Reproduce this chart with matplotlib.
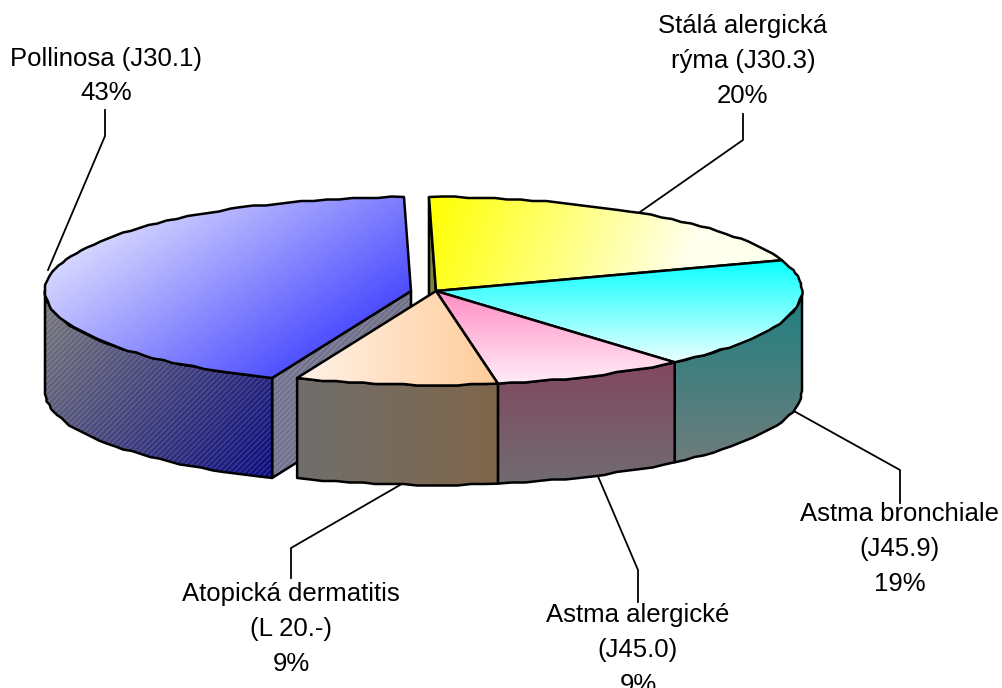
import matplotlib
matplotlib.use("Agg")
import matplotlib.pyplot as plt
import numpy as np
from matplotlib.path import Path
from matplotlib.patches import PathPatch

plt.rcParams["font.family"] = ["Liberation Sans", "DejaVu Sans"]
plt.rcParams["hatch.linewidth"] = 0.6

# clockwise from the top, same order as the reference pie
categories = ["Stálá alergická\nrýma (J30.3)", "Astma bronchiale\n(J45.9)", "Astma alergické\n(J45.0)",
              "Atopická dermatitis\n(L 20.-)", "Pollinosa (J30.1)"]
shares = [20.0, 19.0, 8.6, 8.9, 43.5]
shown_pct = [20, 19, 9, 9, 43]           # what the labels print
explode_x = [0, 0, 0, 0, -25]

CX, CY = 436, 291
RX, RY = 366, 94
DEPTH = 100
START = -1.1


def rim(theta, dx=0):
    t = np.radians(theta)
    return np.column_stack([CX + dx + RX * np.sin(t), CY - RY * np.cos(t)])


def arc_pts(a, b, dx):
    # lightly snapped, the original outline is a bit scalloped
    n = max(6, int(abs(b - a) / 2))
    pts = rim(np.linspace(a, b, n), dx)
    pts[1:-1] = np.round(pts[1:-1] / 1.5) * 1.5
    return pts


def poly(pts):
    pts = np.asarray(pts)
    return Path(np.vstack([pts, pts[:1]]), closed=True)


def grad_fill(ax, path, c0, c1, p0, p1, z):
    """fills path with a linear gradient running from point p0 to point p1"""
    x0, y0 = path.vertices.min(axis=0)
    x1, y1 = path.vertices.max(axis=0)
    xs, ys = np.meshgrid(np.linspace(x0, x1, 300), np.linspace(y0, y1, 300))
    d = np.array(p1, float) - np.array(p0, float)
    t = ((xs - p0[0]) * d[0] + (ys - p0[1]) * d[1]) / (d @ d)
    t = np.clip(t, 0, 1)[..., None]
    c0 = np.array(matplotlib.colors.to_rgb(c0))
    c1 = np.array(matplotlib.colors.to_rgb(c1))
    im = ax.imshow(c0 + (c1 - c0) * t, extent=(x0, x1, y1, y0), aspect="auto",
                   zorder=z, interpolation="bilinear")
    im.set_clip_path(PathPatch(path, transform=ax.transData))


def outline(ax, path, z, hatch=False):
    if hatch:
        ax.add_patch(PathPatch(path, fc="none", ec=(1, 1, 1, 0.22), hatch="//////", lw=0, zorder=z))
    ax.add_patch(PathPatch(path, fc="none", ec="black", lw=1.8, joinstyle="round", zorder=z + 0.1))


fig = plt.figure(figsize=(10.03, 6.88), dpi=100)
ax = fig.add_axes([0, 0, 1, 1])

edges = START + np.cumsum([0] + shares) * 3.6
slices = [(edges[i], edges[i + 1], explode_x[i]) for i in range(len(shares))]


def top_path(a, b, dx):
    return poly(np.vstack([[[CX + dx, CY]], arc_pts(a, b, dx)]))


def side_path(a, b, dx):
    a, b = max(a, 90), min(b, 270)
    arc = arc_pts(a, b, dx)
    return poly(np.vstack([arc, (arc + [0, DEPTH])[::-1]]))


# Pollinosa, pulled out to the left
a, b, dx = slices[4]
corner = rim(a, dx)[0]
face = poly([[CX + dx, CY], corner, corner + [0, DEPTH], [CX + dx, CY + DEPTH]])
grad_fill(ax, face, "#747490", "#707088", (272, 380), (410, 380), 1)
outline(ax, face, 1.2, hatch=True)
side = side_path(a, b, dx)
grad_fill(ax, side, "#74747c", "#0c0c80", (60, 300), (280, 470), 2)
outline(ax, side, 2.2, hatch=True)
top = top_path(a, b, dx)
grad_fill(ax, top, "#e8e8ff", "#2828ff", (100, 200), (280, 455), 3)
outline(ax, top, 3.2)

# Stálá alergická rýma, the cut face shows as a sliver behind the top
a, b, dx = slices[0]
edge = rim(a, dx)[0]
sliver = poly([[CX, CY], edge, edge + [0, DEPTH], [CX, CY + DEPTH]])
ax.add_patch(PathPatch(sliver, fc="#80803f", ec="black", lw=1.8, zorder=4))
top = top_path(a, b, dx)
grad_fill(ax, top, "#ffff00", "#ffffee", (430, 195), (680, 285), 5)
outline(ax, top, 5.2)

# Astma bronchiale
a, b, dx = slices[1]
side = side_path(a, b, dx)
grad_fill(ax, side, "#1f8080", "#707c7c", (740, 295), (740, 465), 6)
outline(ax, side, 6.2)
top = top_path(a, b, dx)
grad_fill(ax, top, "#00ffff", "#eaffff", (600, 258), (600, 362), 7)
outline(ax, top, 7.2)

# Astma alergické
a, b, dx = slices[2]
side = side_path(a, b, dx)
grad_fill(ax, side, "#824860", "#706c72", (590, 365), (590, 485), 8)
outline(ax, side, 8.2)
top = top_path(a, b, dx)
grad_fill(ax, top, "#ff96c8", "#ffeef8", (480, 300), (480, 384), 9)
outline(ax, top, 9.2)

# Atopická dermatitis
a, b, dx = slices[3]
side = side_path(a, b, dx)
grad_fill(ax, side, "#706f6c", "#80664a", (298, 430), (500, 430), 10)
outline(ax, side, 10.2)
top = top_path(a, b, dx)
grad_fill(ax, top, "#fff2e8", "#ffcc99", (298, 340), (500, 340), 11)
outline(ax, top, 11.2)

# leader lines run under the pie
leaders = [
    [(743, 114), (743, 140), (640, 212)],
    [(900, 503), (900, 470), (792, 410)],
    [(638, 602), (638, 570), (597, 474)],
    [(291, 578), (291, 548), (400, 485)],
    [(105, 110), (105, 136), (48, 270)],
]
for pts in leaders:
    xs, ys = zip(*pts)
    ax.plot(xs, ys, color="black", lw=1.3, zorder=0.5)

label_pos = [(743, 61), (900, 549), (638, 650), (291, 629), (106, 76)]
for name, pct, (x, y) in zip(categories, shown_pct, label_pos):
    ax.text(x, y, f"{name}\n{pct}%", ha="center", va="center", ma="center",
            fontsize=18.5, linespacing=1.56, color="black", zorder=20)

ax.set_xlim(0, 1003)
ax.set_ylim(688, 0)
ax.axis("off")
fig.savefig("out.png", dpi=100)
